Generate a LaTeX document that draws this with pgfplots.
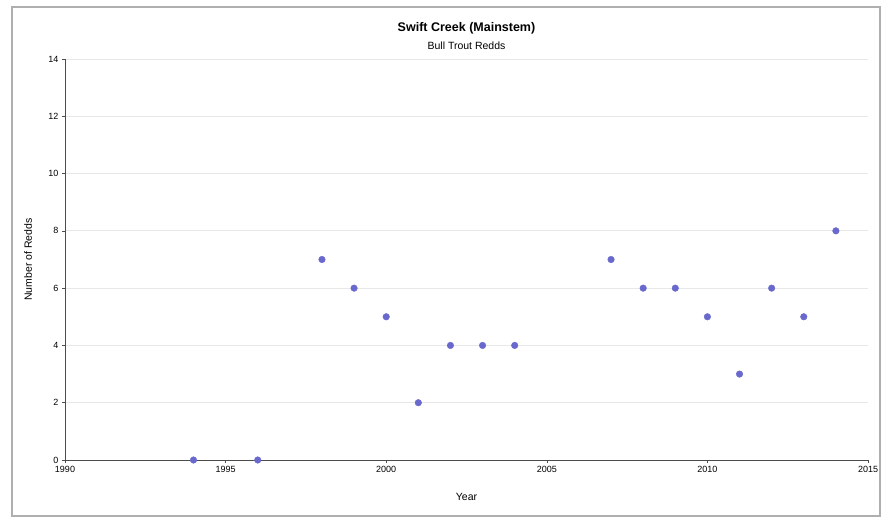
\documentclass[border=0pt]{standalone}
\usepackage{pgfplots}
\pgfplotsset{compat=1.18}
\usepackage{fontspec}
\setmainfont{Liberation Sans}
\definecolor{mk}{RGB}{105,105,205}
\definecolor{gridc}{RGB}{232,232,232}
\definecolor{framec}{RGB}{175,175,175}
\begin{document}
\begin{tikzpicture}[x=1pt,y=1pt]
\path[use as bounding box] (0,0) rectangle (885,518);
\draw[framec, line width=1.5pt] (12,2) rectangle (880,511);
\begin{axis}[
  at={(65pt,58pt)}, anchor=south west,
  scale only axis, width=803pt, height=401pt,
  xmin=1990, xmax=2015, ymin=0, ymax=14,
  xtick={1990,1995,...,2015}, ytick={0,2,...,14},
  axis x line*=bottom, axis y line*=left,
  axis line style={draw=black!70, line width=0.6pt},
  tick style={draw=black!70, line width=0.5pt},
  tick align=outside, major tick length=3pt,
  ymajorgrids, major grid style={gridc, line width=0.8pt},
  tick label style={font=\fontsize{9}{10}\selectfont},
  /pgf/number format/assume math mode=true,
  /pgf/number format/1000 sep={},
  xlabel={Year}, ylabel={Number of Redds},
  label style={font=\fontsize{10.5}{12}\selectfont},
  xlabel style={at={(axis description cs:0.5,-0.0923)}, anchor=center},
  ylabel style={at={(axis description cs:-0.0460,0.5)}, anchor=center},
  clip=false,
]
\addplot[only marks, mark=*, mark size=3.3pt, mark options={draw=mk, fill=mk}] coordinates {
(1994,0) (1996,0) (1998,7) (1999,6) (2000,5) (2001,2) (2002,4) (2003,4) (2004,4)
(2007,7) (2008,6) (2009,6) (2010,5) (2011,3) (2012,6) (2013,5) (2014,8)
};
\end{axis}
\node[font=\bfseries\fontsize{12.5}{14}\selectfont] at (466.5,490) {Swift Creek (Mainstem)};
\node[font=\fontsize{10.5}{12}\selectfont] at (466.5,472) {Bull Trout Redds};
\end{tikzpicture}
\end{document}
